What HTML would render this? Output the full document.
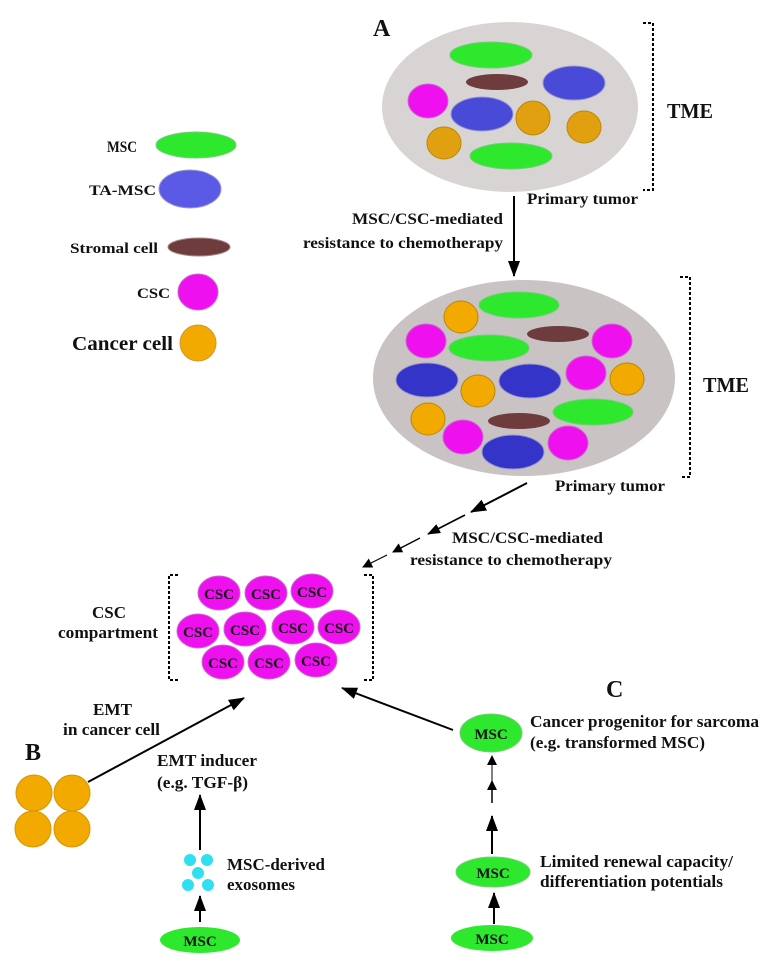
<!DOCTYPE html>
<html><head><meta charset="utf-8"><style>html,body{margin:0;padding:0;background:#fff}svg{display:block}text{font-family:"Liberation Serif",serif;font-weight:bold;fill:#111}</style></head><body>
<svg width="777" height="979" viewBox="0 0 777 979" xmlns="http://www.w3.org/2000/svg">
<defs>
<marker id="ah" markerWidth="10" markerHeight="10" refX="9" refY="5" orient="auto" markerUnits="userSpaceOnUse"><path d="M0,0 L10,5 L0,10 z" fill="#000"/></marker>
<marker id="ahm" markerWidth="13" markerHeight="10" refX="12" refY="5" orient="auto" markerUnits="userSpaceOnUse"><path d="M0,0 L13,5 L0,10 z" fill="#000"/></marker>
<marker id="ahb" markerWidth="16" markerHeight="12" refX="15" refY="6" orient="auto" markerUnits="userSpaceOnUse"><path d="M0,0 L16,6 L0,12 z" fill="#000"/></marker>
</defs>
<g stroke-width="1">
<!-- legend -->
<text x="107" y="152" font-size="16" textLength="30" lengthAdjust="spacingAndGlyphs">MSC</text>
<ellipse cx="196" cy="145" rx="40" ry="13" fill="#2ee82e" stroke="#7c7"/>
<text x="89" y="195" font-size="15" textLength="67" lengthAdjust="spacingAndGlyphs">TA-MSC</text>
<ellipse cx="190" cy="189" rx="31" ry="19" fill="#5a5ae6" stroke="#99c"/>
<text x="70" y="253" font-size="15" textLength="88" lengthAdjust="spacingAndGlyphs">Stromal cell</text>
<ellipse cx="199" cy="247" rx="31" ry="9" fill="#6e3c3c" stroke="#a88"/>
<text x="137" y="298" font-size="15" textLength="33" lengthAdjust="spacingAndGlyphs">CSC</text>
<ellipse cx="198" cy="292" rx="20" ry="18" fill="#ee10ee" stroke="#c6c"/>
<text x="72" y="350" font-size="20" textLength="101" lengthAdjust="spacingAndGlyphs">Cancer cell</text>
<ellipse cx="198" cy="343" rx="18" ry="18" fill="#f2a900" stroke="#c93"/>

<!-- A tumor -->
<text x="373" y="36" font-size="24">A</text>
<ellipse cx="510" cy="107" rx="128" ry="85" fill="#d9d4d4"/>
<ellipse cx="491" cy="55" rx="41" ry="13" fill="#2ee82e" stroke="#7c7"/>
<ellipse cx="497" cy="82" rx="31" ry="8" fill="#6e3c3c"/>
<ellipse cx="574" cy="83" rx="31" ry="17" fill="#4a4ad8" stroke="#99c"/>
<ellipse cx="428" cy="101" rx="20" ry="17" fill="#ee10ee" stroke="#c6c"/>
<ellipse cx="482" cy="114" rx="31" ry="17" fill="#4a4ad8" stroke="#99c"/>
<ellipse cx="533" cy="118" rx="17" ry="17" fill="#e0a010" stroke="#b80"/>
<ellipse cx="584" cy="127" rx="17" ry="16" fill="#e0a010" stroke="#b80"/>
<ellipse cx="444" cy="143" rx="17" ry="16" fill="#e0a010" stroke="#b80"/>
<ellipse cx="511" cy="156" rx="41" ry="13" fill="#2ee82e" stroke="#7c7"/>
<path d="M643,23 H653 V190 H643" fill="none" stroke="#000" stroke-width="2" stroke-dasharray="3,2"/>
<text x="667" y="118" font-size="21" textLength="46" lengthAdjust="spacingAndGlyphs">TME</text>
<text x="527" y="204" font-size="16" textLength="111" lengthAdjust="spacingAndGlyphs">Primary tumor</text>
<line x1="514" y1="196" x2="514" y2="276" stroke="#000" stroke-width="2" marker-end="url(#ahb)"/>
<text x="352" y="224" font-size="16" textLength="151" lengthAdjust="spacingAndGlyphs">MSC/CSC-mediated</text>
<text x="303" y="248" font-size="16" textLength="200" lengthAdjust="spacingAndGlyphs">resistance to chemotherapy</text>

<!-- middle tumor -->
<ellipse cx="524" cy="378" rx="151" ry="98" fill="#c9c3c3"/>
<ellipse cx="519" cy="305" rx="40" ry="13" fill="#2ee82e" stroke="#7c7"/>
<ellipse cx="461" cy="317" rx="17" ry="16" fill="#f2a900" stroke="#b80"/>
<ellipse cx="426" cy="341" rx="20" ry="17" fill="#ee10ee" stroke="#c6c"/>
<ellipse cx="558" cy="334" rx="31" ry="8" fill="#6e3c3c"/>
<ellipse cx="612" cy="341" rx="20" ry="17" fill="#ee10ee" stroke="#c6c"/>
<ellipse cx="489" cy="348" rx="40" ry="13" fill="#2ee82e" stroke="#7c7"/>
<ellipse cx="427" cy="380" rx="31" ry="17" fill="#3434c8" stroke="#99c"/>
<ellipse cx="530" cy="381" rx="31" ry="17" fill="#3434c8" stroke="#99c"/>
<ellipse cx="478" cy="391" rx="17" ry="16" fill="#f2a900" stroke="#b80"/>
<ellipse cx="586" cy="373" rx="20" ry="17" fill="#ee10ee" stroke="#c6c"/>
<ellipse cx="627" cy="379" rx="17" ry="16" fill="#f2a900" stroke="#b80"/>
<ellipse cx="593" cy="412" rx="40" ry="13" fill="#2ee82e" stroke="#7c7"/>
<ellipse cx="428" cy="419" rx="17" ry="16" fill="#f2a900" stroke="#b80"/>
<ellipse cx="519" cy="421" rx="31" ry="8" fill="#6e3c3c"/>
<ellipse cx="463" cy="437" rx="20" ry="17" fill="#ee10ee" stroke="#c6c"/>
<ellipse cx="513" cy="452" rx="31" ry="17" fill="#3434c8" stroke="#99c"/>
<ellipse cx="568" cy="443" rx="20" ry="17" fill="#ee10ee" stroke="#c6c"/>
<path d="M680,277 H690 V477 H680" fill="none" stroke="#000" stroke-width="2" stroke-dasharray="3,2"/>
<text x="703" y="392" font-size="21" textLength="46" lengthAdjust="spacingAndGlyphs">TME</text>
<text x="555" y="491" font-size="16" textLength="110" lengthAdjust="spacingAndGlyphs">Primary tumor</text>
<!-- dashed chain arrow -->
<line x1="527" y1="483" x2="471" y2="512" stroke="#000" stroke-width="2" marker-end="url(#ahb)"/>
<line x1="465" y1="515" x2="428" y2="534" stroke="#000" stroke-width="1.6" marker-end="url(#ahm)"/>
<line x1="420" y1="538" x2="393" y2="552" stroke="#000" stroke-width="1.4" marker-end="url(#ah)"/>
<line x1="387" y1="555" x2="363" y2="567" stroke="#000" stroke-width="1.2" marker-end="url(#ah)"/>
<text x="452" y="543" font-size="16" textLength="151" lengthAdjust="spacingAndGlyphs">MSC/CSC-mediated</text>
<text x="410" y="565" font-size="16" textLength="202" lengthAdjust="spacingAndGlyphs">resistance to chemotherapy</text>

<!-- CSC compartment -->
<text x="92" y="618" font-size="17" textLength="34" lengthAdjust="spacingAndGlyphs">CSC</text>
<text x="58" y="638" font-size="17" textLength="100" lengthAdjust="spacingAndGlyphs">compartment</text>
<path d="M178,575 H169 V680 H178 M364,575 H373 V680 H364" fill="none" stroke="#000" stroke-width="2" stroke-dasharray="3,2"/>
<g fill="#ee10ee" stroke="#c6c">
<ellipse cx="219" cy="593" rx="21" ry="17"/><ellipse cx="266" cy="593" rx="21" ry="17"/><ellipse cx="312" cy="591" rx="21" ry="17"/>
<ellipse cx="198" cy="631" rx="21" ry="17"/><ellipse cx="245" cy="629" rx="21" ry="17"/><ellipse cx="293" cy="627" rx="21" ry="17"/><ellipse cx="339" cy="627" rx="21" ry="17"/>
<ellipse cx="223" cy="662" rx="21" ry="17"/><ellipse cx="269" cy="662" rx="21" ry="17"/><ellipse cx="316" cy="660" rx="21" ry="17"/>
</g>
<g font-size="15" text-anchor="middle">
<text x="219" y="599">CSC</text><text x="266" y="599">CSC</text><text x="312" y="597">CSC</text>
<text x="198" y="637">CSC</text><text x="245" y="635">CSC</text><text x="293" y="633">CSC</text><text x="339" y="633">CSC</text>
<text x="223" y="668">CSC</text><text x="269" y="668">CSC</text><text x="316" y="666">CSC</text>
</g>
<line x1="88" y1="782" x2="244" y2="698" stroke="#000" stroke-width="2" marker-end="url(#ahb)"/>
<line x1="453" y1="730" x2="342" y2="688" stroke="#000" stroke-width="2" marker-end="url(#ahb)"/>

<!-- B -->
<text x="93" y="715" font-size="17" textLength="39" lengthAdjust="spacingAndGlyphs">EMT</text>
<text x="63" y="735" font-size="17" textLength="97" lengthAdjust="spacingAndGlyphs">in cancer cell</text>
<text x="25" y="760" font-size="24">B</text>
<g fill="#f2a900" stroke="#d99400">
<circle cx="34" cy="793" r="18"/><circle cx="72" cy="793" r="18"/><circle cx="33" cy="829" r="18"/><circle cx="72" cy="829" r="18"/>
</g>
<text x="157" y="766" font-size="17" textLength="100" lengthAdjust="spacingAndGlyphs">EMT inducer</text>
<text x="157" y="788" font-size="17" textLength="91" lengthAdjust="spacingAndGlyphs">(e.g. TGF-β)</text>
<line x1="200" y1="850" x2="200" y2="795" stroke="#000" stroke-width="2" marker-end="url(#ahb)"/>
<g fill="#30e0f0"><circle cx="190" cy="860" r="6"/><circle cx="207" cy="860" r="6"/><circle cx="198" cy="873" r="6"/><circle cx="188" cy="885" r="6"/><circle cx="208" cy="885" r="6"/></g>
<text x="227" y="870" font-size="17" textLength="98" lengthAdjust="spacingAndGlyphs">MSC-derived</text>
<text x="227" y="890" font-size="17" textLength="68" lengthAdjust="spacingAndGlyphs">exosomes</text>
<line x1="200" y1="922" x2="200" y2="896" stroke="#000" stroke-width="2" marker-end="url(#ahb)"/>
<ellipse cx="200" cy="940" rx="40" ry="13" fill="#2ee82e"/>
<text x="200" y="946" font-size="15" text-anchor="middle">MSC</text>

<!-- C -->
<text x="606" y="697" font-size="24">C</text>
<ellipse cx="491" cy="733" rx="31" ry="19" fill="#2ee82e" stroke="#7c7"/>
<text x="491" y="739" font-size="15" text-anchor="middle">MSC</text>
<text x="530" y="727" font-size="17" textLength="229" lengthAdjust="spacingAndGlyphs">Cancer progenitor for sarcoma</text>
<text x="530" y="748" font-size="17" textLength="175" lengthAdjust="spacingAndGlyphs">(e.g. transformed MSC)</text>
<line x1="492" y1="781" x2="492" y2="756" stroke="#000" stroke-width="1" marker-end="url(#ah)"/>
<line x1="492" y1="803" x2="492" y2="781" stroke="#000" stroke-width="1.5" marker-end="url(#ah)"/>
<line x1="492" y1="854" x2="492" y2="816" stroke="#000" stroke-width="2" marker-end="url(#ahb)"/>
<ellipse cx="493" cy="872" rx="37" ry="15" fill="#2ee82e" stroke="#7c7"/>
<text x="493" y="878" font-size="15" text-anchor="middle">MSC</text>
<text x="540" y="867" font-size="17" textLength="193" lengthAdjust="spacingAndGlyphs">Limited renewal capacity/</text>
<text x="540" y="887" font-size="17" textLength="183" lengthAdjust="spacingAndGlyphs">differentiation potentials</text>
<line x1="494" y1="924" x2="494" y2="893" stroke="#000" stroke-width="2" marker-end="url(#ahb)"/>
<ellipse cx="492" cy="938" rx="41" ry="13" fill="#2ee82e"/>
<text x="492" y="944" font-size="15" text-anchor="middle">MSC</text>
</g>
</svg>
</body></html>
